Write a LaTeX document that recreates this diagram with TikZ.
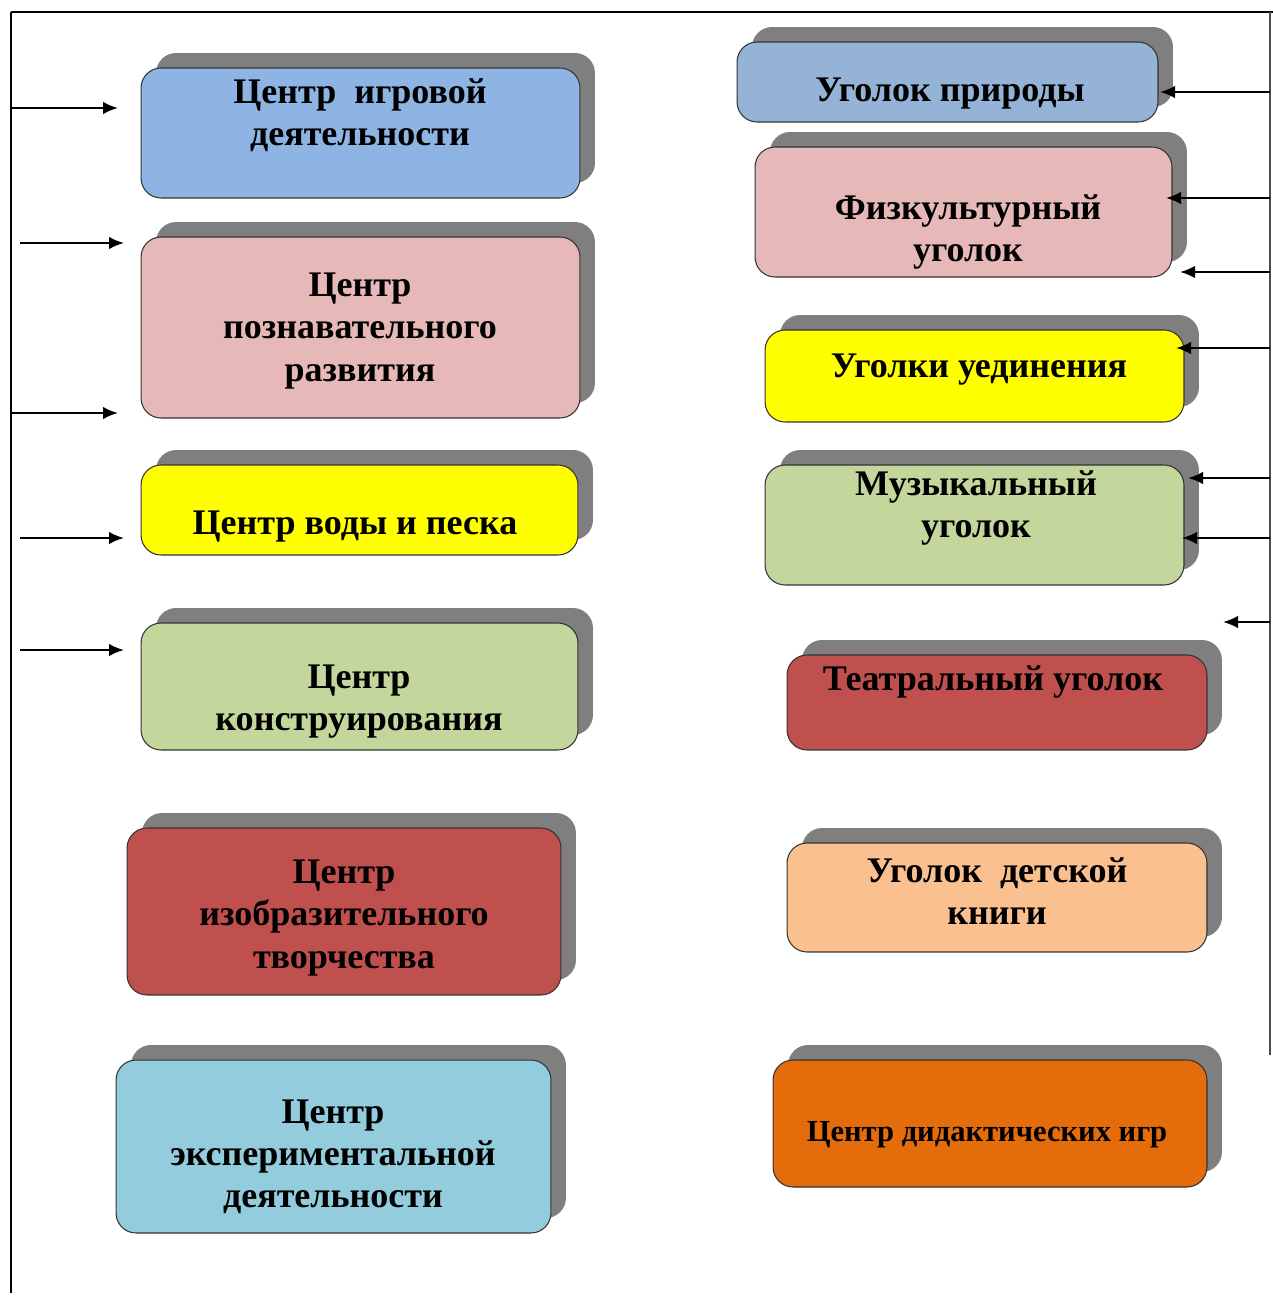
\documentclass[tikz,border=0pt]{standalone}
\usepackage{fontspec}
\setmainfont{Liberation Serif}
\usepackage{xcolor}
\usetikzlibrary{
    arrows.meta,
    shadows,
    positioning
}
\definecolor{playblue}{HTML}{8EB4E3}
\definecolor{natblue}{HTML}{95B3D7}
\definecolor{rosy}{HTML}{E6B9B8}
\definecolor{sandy}{HTML}{FFFF00}
\definecolor{olive}{HTML}{C3D69B}
\definecolor{brick}{HTML}{C0504D}
\definecolor{aqua}{HTML}{93CDDD}
\definecolor{peach}{HTML}{FAC090}
\definecolor{pumpkin}{HTML}{E46C0A}
\definecolor{shade}{HTML}{7F7F7F}

\begin{document}
\begin{tikzpicture}[x=0.02cm, y=-0.02cm,
    box/.style={rectangle, rounded corners=0.4cm, draw=black!80, line width=0.6pt, inner sep=0pt,
        drop shadow={shadow xshift=0.3cm, shadow yshift=0.3cm, fill=shade, opacity=1}},
    lbl/.style={align=center, font=\fontsize{20.5}{24}\selectfont\bfseries},
    feed/.style={line width=1.1pt, -{Latex[length=3mm, width=2.5mm]}}]
                                \useasboundingbox (0, 0) rectangle (1273, 1311);
                                \draw[line width=0.9pt] (11, 12) -- (1273, 12);
                                \draw[line width=0.9pt] (11, 12) -- (11, 1293);
                                \draw[line width=0.6pt, black!70] (1270, 12) -- (1270, 1055);

                                \node[box, fill=playblue, minimum width=8.78cm, minimum height=2.6cm] (play) at (360.5, 133) {};
                                \node[box, fill=rosy, minimum width=8.78cm, minimum height=3.62cm] (cogn) at (360.5, 327.5) {};
                                \node[box, fill=sandy, minimum width=8.74cm, minimum height=1.8cm] (water) at (359.5, 510) {};
                                \node[box, fill=olive, minimum width=8.74cm, minimum height=2.54cm] (build) at (359.5, 686.5) {};
                                \node[box, fill=brick, minimum width=8.68cm, minimum height=3.34cm] (art) at (344, 911.5) {};
                                \node[box, fill=aqua, minimum width=8.7cm, minimum height=3.46cm] (exper) at (333.5, 1146.5) {};

                                \node[box, fill=natblue, minimum width=8.42cm, minimum height=1.6cm] (nature) at (947.5, 82) {};
                                \node[box, fill=rosy, minimum width=8.34cm, minimum height=2.6cm] (sport) at (963.5, 212) {};
                                \node[box, fill=sandy, minimum width=8.38cm, minimum height=1.84cm] (quiet) at (974.5, 376) {};
                                \node[box, fill=olive, minimum width=8.38cm, minimum height=2.4cm] (music) at (974.5, 525) {};
                                \node[box, fill=brick, minimum width=8.4cm, minimum height=1.9cm] (theatre) at (997, 702.5) {};
                                \node[box, fill=peach, minimum width=8.4cm, minimum height=2.18cm] (books) at (997, 897.5) {};
                                \node[box, fill=pumpkin, minimum width=8.68cm, minimum height=2.54cm] (didact) at (990, 1123.5) {};

                                \node[lbl] (play-t) at (360, 115) {Центр\ \ игровой\\деятельности};
                                \node[lbl] (cogn-t) at (360, 331) {Центр\\познавательного\\развития};
                                \node[lbl] (water-t) at (355, 527) {Центр воды и песка};
                                \node[lbl] (build-t) at (359, 702) {Центр\\конструирования};
                                \node[lbl] (art-t) at (344, 918) {Центр\\изобразительного\\творчества};
                                \node[lbl] (exper-t) at (333, 1157) {Центр\\экспериментальной\\деятельности};

                                \node[lbl] (nature-t) at (950, 94) {Уголок природы};
                                \node[lbl] (sport-t) at (968, 232) {Физкультурный\\уголок};
                                \node[lbl] (quiet-t) at (979, 370) {Уголки уединения};
                                \node[lbl] (music-t) at (976, 508) {Музыкальный\\уголок};
                                \node[lbl] (theatre-t) at (993, 682) {Театральный уголок};
                                \node[lbl] (books-t) at (997, 891) {Уголок\ \ детской\\книги};
                                \node[lbl, font=\fontsize{17.4}{20}\selectfont\bfseries] (didact-t) at (987, 1135) {Центр дидактических игр};

                                \coordinate (la1) at (11, 108);   \coordinate (la1e) at (118, 108);
                                \coordinate (la2) at (20, 243);   \coordinate (la2e) at (124, 243);
                                \coordinate (la3) at (11, 413);   \coordinate (la3e) at (118, 413);
                                \coordinate (la4) at (20, 538);   \coordinate (la4e) at (124, 538);
                                \coordinate (la5) at (20, 650);   \coordinate (la5e) at (124, 650);
                                \coordinate (ra1) at (1270, 92);  \coordinate (ra1e) at (1160, 92);
                                \coordinate (ra2) at (1270, 198); \coordinate (ra2e) at (1166, 198);
                                \coordinate (ra3) at (1270, 272); \coordinate (ra3e) at (1180, 272);
                                \coordinate (ra4) at (1270, 348); \coordinate (ra4e) at (1176, 348);
                                \coordinate (ra5) at (1270, 478); \coordinate (ra5e) at (1188, 478);
                                \coordinate (ra6) at (1270, 538); \coordinate (ra6e) at (1182, 538);
                                \coordinate (ra7) at (1270, 622); \coordinate (ra7e) at (1223, 622);

                                \foreach \a in {la1, la2, la3, la4, la5, ra1, ra2, ra3, ra4, ra5, ra6, ra7}
                                    \draw[feed] (\a) -- (\a e);
                            \end{tikzpicture}
\end{document}
